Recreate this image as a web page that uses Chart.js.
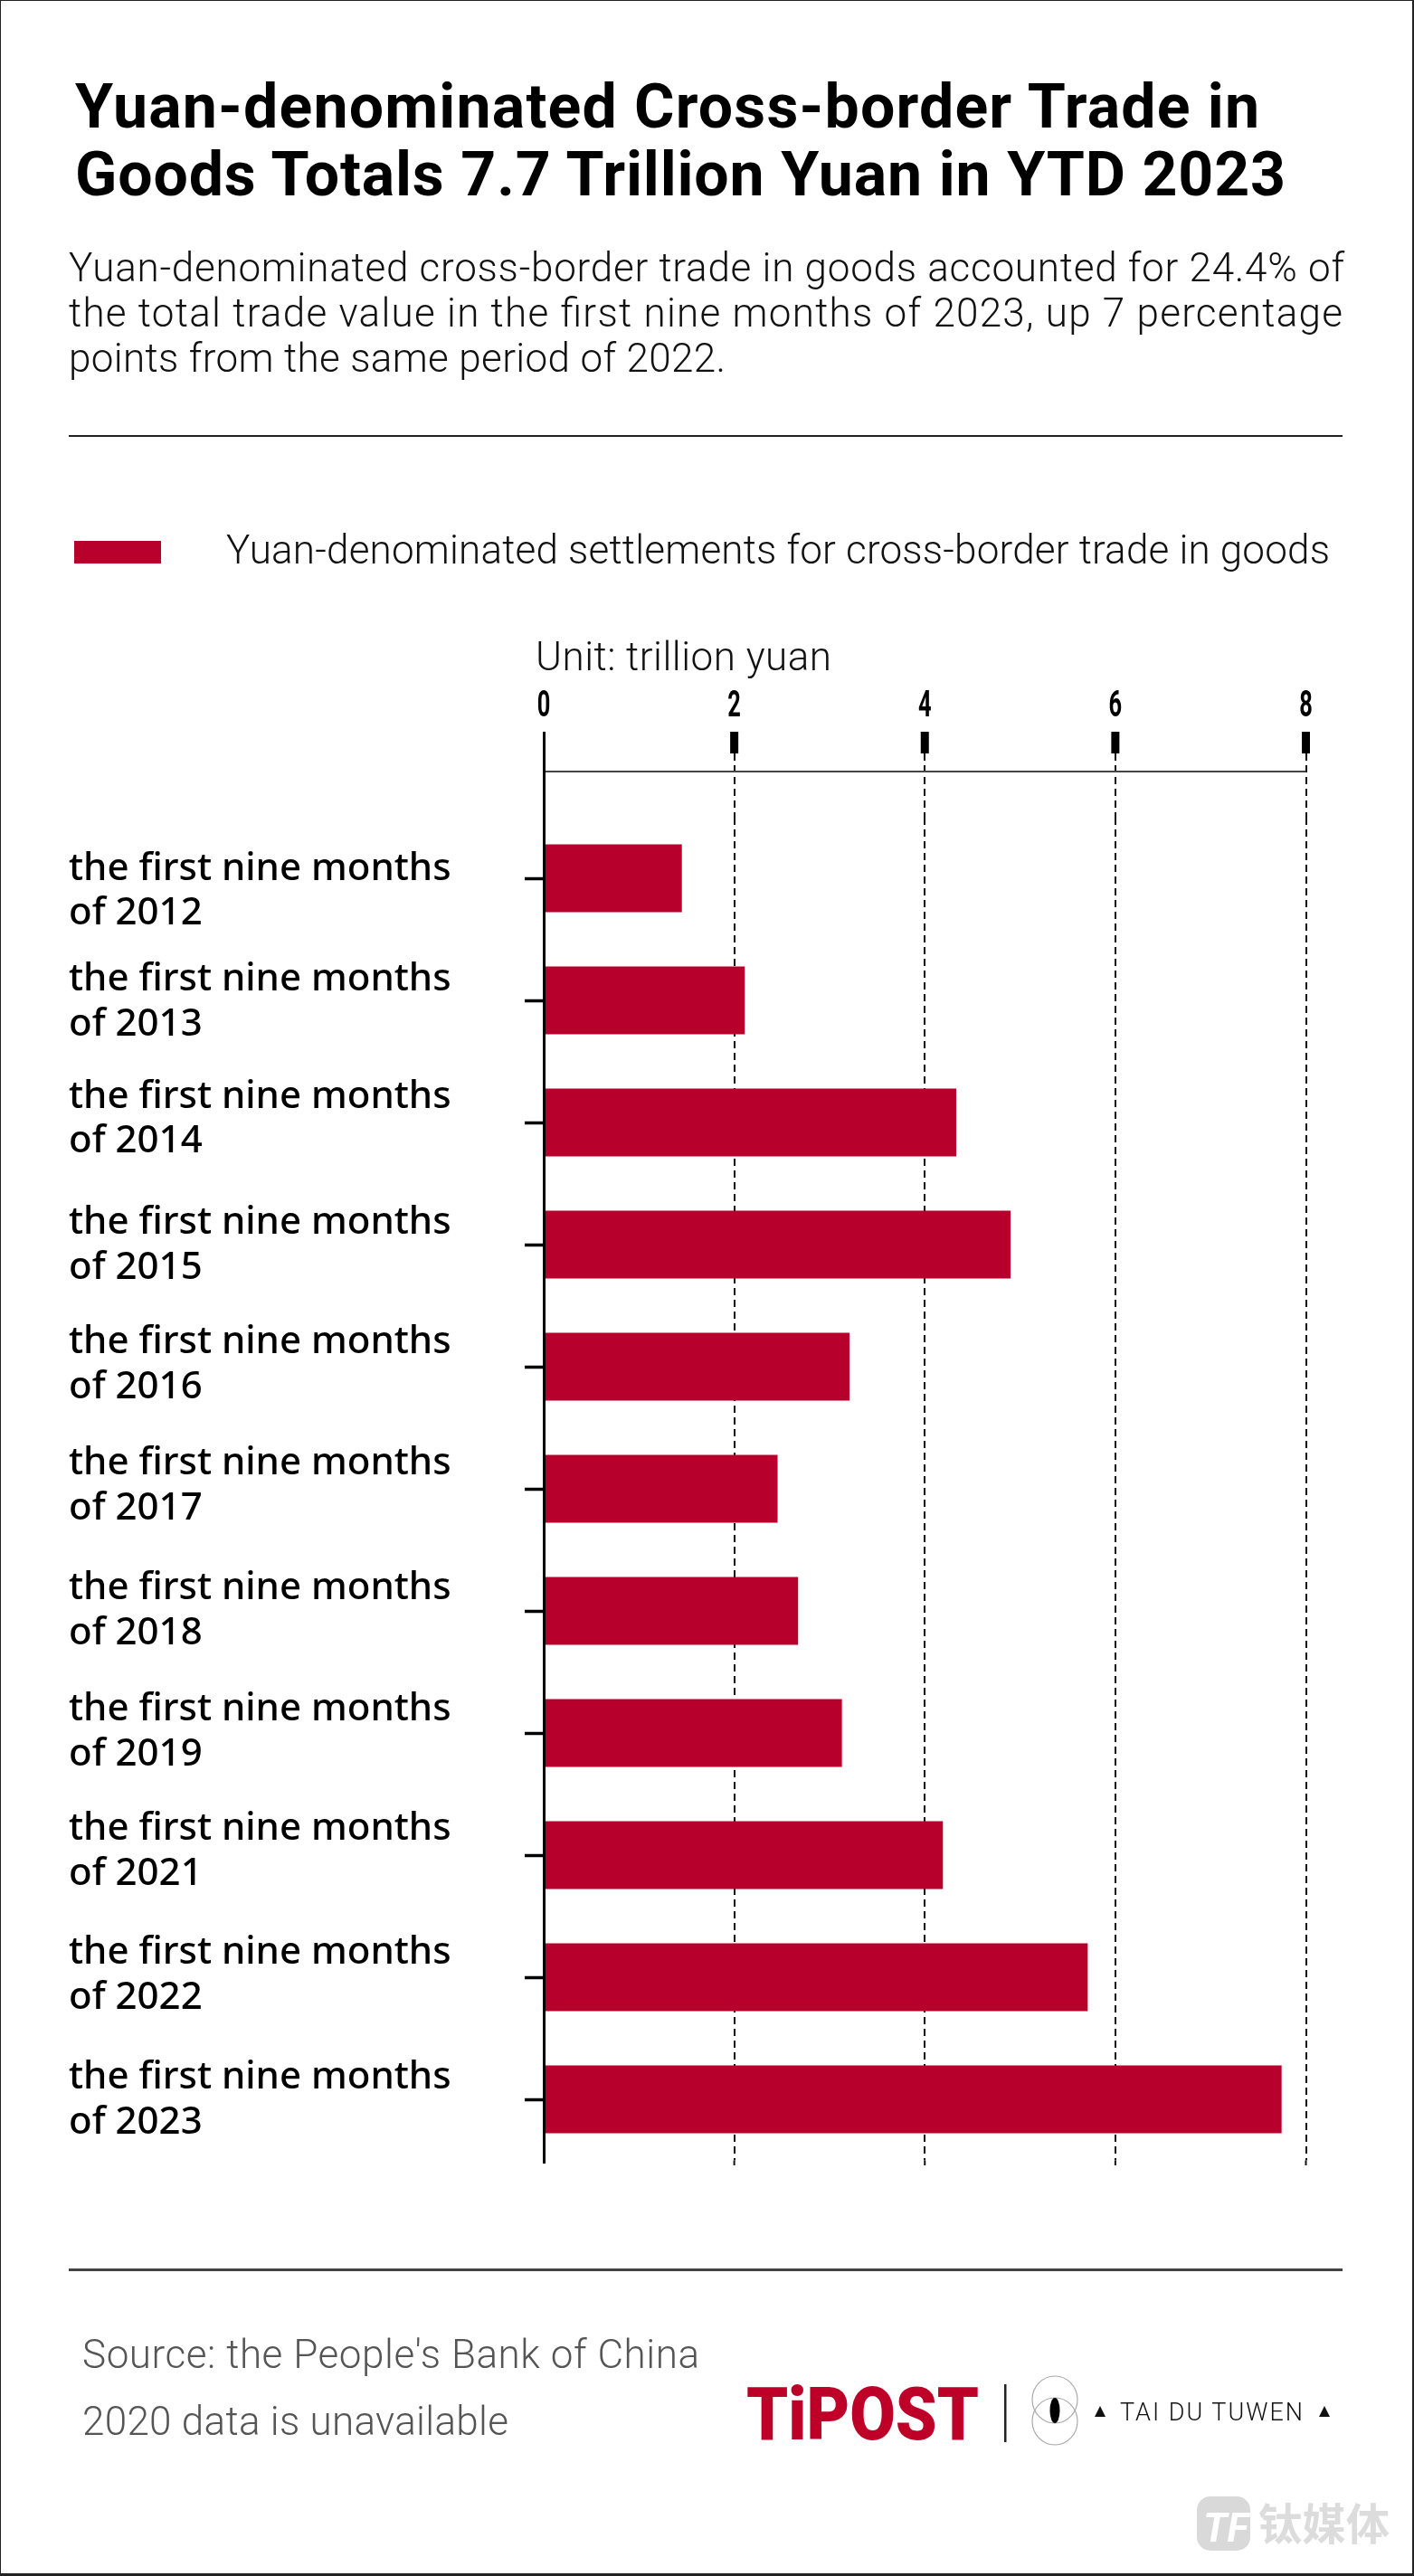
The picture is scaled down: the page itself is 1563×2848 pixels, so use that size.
<!DOCTYPE html>
<html lang="en">

<head>
    <meta charset="UTF-8">
    <title>Yuan-denominated Cross-border Trade in Goods</title>
    <script src="https://cdn.jsdelivr.net/npm/chart.js"></script>
    <style>
        html, body { margin: 0; padding: 0; background: #fff; }
        #page { position: relative; width: 1563px; height: 2848px; overflow: hidden; background: #fff; }
        #frame { position: absolute; left: 0; top: 0; width: 1563px; height: 2848px; box-sizing: border-box; border: 2px solid #222; border-top-width: 1px; border-left-width: 1px; border-bottom-width: 3px; }
        #grafico { position: absolute; left: 0; top: 0; width: 1563px; height: 2848px; }
        #textos { position: absolute; left: 0; top: 0; }
        .t-title { font: 700 68px Roboto, sans-serif; fill: #000; }
        .t-sub { font: 300 44px Roboto, sans-serif; fill: #111; }
        .t-foot { font: 300 44px Roboto, sans-serif; fill: #555; }
    </style>
</head>

<body>
    <div id="page">
        <canvas id="grafico" width="1563" height="2848"></canvas>
        <svg id="textos" width="1563" height="2848" viewBox="0 0 1563 2848">
            <text class="t-title" x="83" y="141" textLength="1309">Yuan-denominated Cross-border Trade in</text>
            <text class="t-title" x="83" y="216" textLength="1338">Goods Totals 7.7 Trillion Yuan in YTD 2023</text>

            <text class="t-sub" x="76" y="311" textLength="1410">Yuan-denominated cross-border trade in goods accounted for 24.4% of</text>
            <text class="t-sub" x="76" y="361" textLength="1408">the total trade value in the first nine months of 2023, up 7 percentage</text>
            <text class="t-sub" x="76" y="411" textLength="726">points from the same period of 2022.</text>
            <rect x="76" y="481" width="1408" height="2" fill="#222"></rect>

            <rect x="82" y="598" width="96" height="25" fill="#b8002c"></rect>
            <text class="t-sub" x="250" y="623" textLength="1220">Yuan-denominated settlements for cross-border trade in goods</text>
            <text class="t-sub" x="592" y="741" textLength="327">Unit: trillion yuan</text>

            <rect x="76" y="2508" width="1408" height="3" fill="#444"></rect>
            <text class="t-foot" x="91" y="2618" textLength="682">Source: the People's Bank of China</text>
            <text class="t-foot" x="91" y="2692" textLength="471">2020 data is unavailable</text>

            <text x="825" y="2697" textLength="257" lengthAdjust="spacingAndGlyphs" style="font: 900 82px Roboto, sans-serif; fill: #be0029;">TiPOST</text>
            <rect x="1110" y="2636" width="2.5" height="64" fill="#222"></rect>
            <g fill="none" stroke="#aaa" stroke-width="1.2">
                <ellipse cx="1166" cy="2653" rx="25" ry="26"></ellipse>
                <ellipse cx="1166" cy="2677" rx="25" ry="26"></ellipse>
            </g>
            <ellipse cx="1166" cy="2665" rx="5.5" ry="14" fill="#000"></ellipse>
            <path d="M1210 2672 L1222 2672 L1216 2660 Z" fill="#111"></path>
            <text x="1238" y="2676" textLength="202" style="font: 300 27px Roboto, sans-serif; fill: #111;">TAI DU TUWEN</text>
            <path d="M1458 2672 L1470 2672 L1464 2660 Z" fill="#111"></path>

            <rect x="1323" y="2760" width="59" height="60" rx="15" fill="#d9d9d9"></rect>
            <text x="1330" y="2810" style="font: 700 italic 44px Roboto, sans-serif; fill: #fff;">TF</text>
            <text x="1391" y="2808" textLength="145" lengthAdjust="spacingAndGlyphs" style="font: 700 48px 'Noto Sans CJK SC', sans-serif; fill: #dcdcdc;">钛媒体</text>
        </svg>
        <div id="frame"></div>
    </div>

    <script>
        const categorias = [
            ['the first nine months', 'of 2012'],
            ['the first nine months', 'of 2013'],
            ['the first nine months', 'of 2014'],
            ['the first nine months', 'of 2015'],
            ['the first nine months', 'of 2016'],
            ['the first nine months', 'of 2017'],
            ['the first nine months', 'of 2018'],
            ['the first nine months', 'of 2019'],
            ['the first nine months', 'of 2021'],
            ['the first nine months', 'of 2022'],
            ['the first nine months', 'of 2023']
        ];
        const valores = [1.45, 2.11, 4.33, 4.90, 3.21, 2.455, 2.67, 3.13, 4.19, 5.71, 7.745];
        const marcasX = [0, 2, 4, 6, 8];

        // the year labels do not sit evenly in the reference, so nudge each one
        const ajusteRotulos = [14.5, 2, -3.5, 1, -2, -2.7, 0, -1, -4, -2, 1];

        // the digits on the top axis are a condensed face, none is installed
        const estreitoX = 0.62;

        // axis parts that reach outside the plot area
        const extrasEixo = {
            id: 'extrasEixo',
            beforeDraw(chart) {
                const { ctx, scales: { x, y } } = chart;
                y.getLabelItems(chart.chartArea).forEach((item, i) => {
                    if (!item.ajustado) {
                        item.options.translation[1] += ajusteRotulos[i];
                        item.ajustado = true;
                    }
                });
                x.getLabelItems(chart.chartArea).forEach(item => {
                    if (!item.ajustado) {
                        item.options.translation[0] /= estreitoX;
                        item.ajustado = true;
                    }
                });
                if (!x.desenhoOriginal) {
                    x.desenhoOriginal = x.drawLabels;
                    // its clip box would shrink with the scale below
                    x._computeLabelArea = () => undefined;
                    x.drawLabels = function (area) {
                        ctx.save();
                        ctx.scale(estreitoX, 1);
                        x.desenhoOriginal(area);
                        ctx.restore();
                    };
                }
            },
            beforeDatasetsDraw(chart) {
                const { ctx, scales: { x }, chartArea } = chart;
                ctx.save();
                ctx.fillStyle = '#000';
                marcasX.slice(1).forEach(v => {
                    ctx.fillRect(x.getPixelForValue(v) - 4.5, 809, 9, 24);
                });
                ctx.strokeStyle = '#111';
                ctx.lineWidth = 2;
                ctx.setLineDash([8, 5]);
                marcasX.slice(1).forEach(v => {
                    ctx.beginPath();
                    ctx.moveTo(x.getPixelForValue(v), chartArea.bottom);
                    ctx.lineTo(x.getPixelForValue(v), 2394);
                    ctx.stroke();
                });
                ctx.setLineDash([]);
                ctx.strokeStyle = '#444';
                ctx.lineWidth = 2.2;
                ctx.beginPath();
                ctx.moveTo(x.getPixelForValue(0), 853);
                ctx.lineTo(x.getPixelForValue(8), 853);
                ctx.stroke();
                ctx.restore();
            },
            afterDraw(chart) {
                const { ctx, scales: { x } } = chart;
                ctx.save();
                ctx.fillStyle = '#000';
                ctx.fillRect(x.getPixelForValue(0) - 1, 809, 3, 2392 - 809);
                ctx.restore();
            }
        };

        new Chart(document.getElementById('grafico').getContext('2d'), {
            type: 'bar',
            data: {
                labels: categorias,
                datasets: [{
                    label: 'Yuan-denominated settlements for cross-border trade in goods',
                    data: valores,
                    backgroundColor: '#b8002c',
                    barPercentage: 75 / 135,
                    categoryPercentage: 1
                }]
            },
            options: {
                indexAxis: 'y',
                responsive: false,
                animation: false,
                devicePixelRatio: 1,
                layout: {
                    padding: { left: 76, top: 753.5, right: 119.5, bottom: 459.5 }
                },
                plugins: {
                    legend: { display: false },
                    tooltip: { enabled: false }
                },
                scales: {
                    x: {
                        position: 'top',
                        min: 0,
                        max: 8,
                        afterBuildTicks(scale) {
                            scale.ticks = marcasX.map(v => ({ value: v }));
                        },
                        afterFit(scale) {
                            scale.height = 150;
                        },
                        border: { display: false, dash: [8, 5] },
                        grid: {
                            color: '#111',
                            lineWidth: 2,
                            tickLength: 70.5,
                            tickColor: '#111',
                            tickWidth: 2,
                            tickBorderDash: [8, 5]
                        },
                        ticks: {
                            color: '#000',
                            padding: 27,
                            maxRotation: 0,
                            autoSkip: false,
                            font: { family: 'Roboto, sans-serif', size: 41, weight: 'bold' }
                        }
                    },
                    y: {
                        afterFit(scale) {
                            scale.width = 525;
                        },
                        border: { color: '#000', width: 3 },
                        grid: {
                            offset: false,
                            drawOnChartArea: false,
                            tickLength: 21,
                            tickWidth: 3.5,
                            tickColor: '#000'
                        },
                        ticks: {
                            color: '#000',
                            crossAlign: 'far',
                            autoSkip: false,
                            font: { family: "'Noto Sans', sans-serif", size: 42, weight: '500', lineHeight: 1.18 }
                        }
                    }
                }
            },
            plugins: [extrasEixo]
        });
    </script>
</body>

</html>
